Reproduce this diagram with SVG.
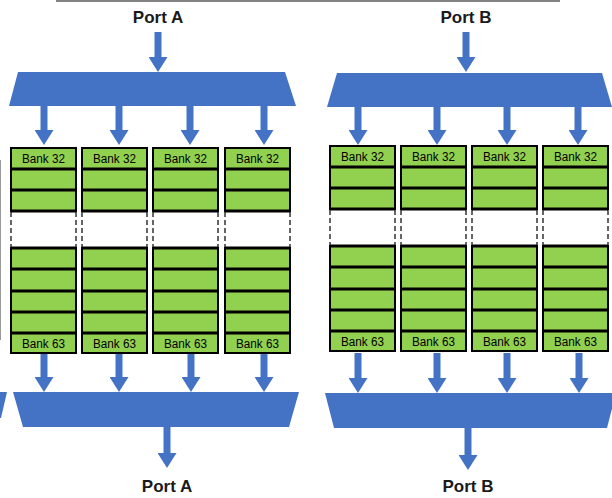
<svg xmlns="http://www.w3.org/2000/svg" width="612" height="498" viewBox="0 0 612 498">
<defs>
<style>
.mux{fill:#4472C4;}
.arr{stroke:#4472C4;stroke-width:7;fill:none;marker-end:url(#ah);}
.g{fill:#92D050;stroke:#000;stroke-width:2;}
.sep{stroke:#000;stroke-width:2.8;}
.dash{stroke:#555;stroke-width:1.8;stroke-dasharray:5 3;}
.bank{font-family:"Liberation Sans",Arial,sans-serif;font-size:12.5px;fill:#000;text-anchor:middle;}
.port{font-family:"Liberation Sans",Arial,sans-serif;font-size:17px;font-weight:bold;fill:#1a1a1a;text-anchor:middle;}
</style>
<marker id="ah" viewBox="0 0 15 19" markerWidth="15" markerHeight="19" refX="0" refY="9.5" orient="auto" markerUnits="userSpaceOnUse">
<path d="M0,0 L15,9.5 L0,19 z" fill="#4472C4"/>
</marker>
<g id="col">
<rect class="g" x="0" y="0" width="65" height="63"/>
<line class="sep" x1="0" y1="21" x2="65" y2="21"/>
<line class="sep" x1="0" y1="42" x2="65" y2="42"/>
<rect x="0" y="63" width="65" height="37" fill="#fff"/>
<line class="dash" x1="0" y1="64" x2="0" y2="100"/>
<line class="dash" x1="65" y1="64" x2="65" y2="100"/>
<rect class="g" x="0" y="100" width="65" height="105"/>
<line class="sep" x1="0" y1="63" x2="65" y2="63"/>
<line class="sep" x1="0" y1="100" x2="65" y2="100"/>
<line class="sep" x1="0" y1="121" x2="65" y2="121"/>
<line class="sep" x1="0" y1="143" x2="65" y2="143"/>
<line class="sep" x1="0" y1="164" x2="65" y2="164"/>
<line class="sep" x1="0" y1="185" x2="65" y2="185"/>
<text class="bank" x="32.5" y="15" textLength="43" lengthAdjust="spacingAndGlyphs">Bank 32</text>
<text class="bank" x="32.5" y="199.5" textLength="43" lengthAdjust="spacingAndGlyphs">Bank 63</text>
</g>
</defs>
<rect width="612" height="498" fill="#fff"/>
<!-- edge fragments -->
<line x1="56" y1="1" x2="560" y2="1" stroke="#595959" stroke-width="1.5"/>
<line x1="0.5" y1="160" x2="0.5" y2="340" stroke="#999" stroke-width="1"/>
<polygon class="mux" points="0,392 7,392 1,418 0,418"/>

<!-- Port labels -->
<text class="port" x="158" y="23">Port A</text>
<text class="port" x="466" y="23">Port B</text>
<text class="port" x="167" y="492">Port A</text>
<text class="port" x="468" y="492">Port B</text>

<!-- multiplexers -->
<g id="muxA-top"><polygon class="mux" points="18,72 285,72 296,106 9,106"/></g>
<g id="muxB-top"><polygon class="mux" points="337,73 602,73 612,107 327,107"/></g>
<g id="muxA-bot"><polygon class="mux" points="13,392 299,392 289,427 23,427"/></g>
<g id="muxB-bot"><polygon class="mux" points="325,393 616,393 607,428 334,428"/></g>

<!-- bank columns -->
<g id="colA1"><use href="#col" x="11" y="148"/></g>
<g id="colA2"><use href="#col" x="82" y="148"/></g>
<g id="colA3"><use href="#col" x="153" y="148"/></g>
<g id="colA4"><use href="#col" x="225" y="148"/></g>
<g id="colB1"><use href="#col" x="330" y="146"/></g>
<g id="colB2"><use href="#col" x="401" y="146"/></g>
<g id="colB3"><use href="#col" x="472" y="146"/></g>
<g id="colB4"><use href="#col" x="543" y="146"/></g>

<!-- connectors -->
<g id="connectors">
<line class="arr" x1="158" y1="32" x2="158" y2="57"/>
<line class="arr" x1="466" y1="32" x2="466" y2="57"/>
<line class="arr" x1="44" y1="106" x2="44" y2="130"/>
<line class="arr" x1="119" y1="106" x2="119" y2="130"/>
<line class="arr" x1="190" y1="106" x2="190" y2="130"/>
<line class="arr" x1="264" y1="106" x2="264" y2="130"/>
<line class="arr" x1="358" y1="107" x2="358" y2="130"/>
<line class="arr" x1="437" y1="107" x2="437" y2="130"/>
<line class="arr" x1="507" y1="107" x2="507" y2="130"/>
<line class="arr" x1="578" y1="107" x2="578" y2="130"/>
<line class="arr" x1="44" y1="354" x2="44" y2="377"/>
<line class="arr" x1="119" y1="354" x2="119" y2="377"/>
<line class="arr" x1="191" y1="354" x2="191" y2="377"/>
<line class="arr" x1="264" y1="354" x2="264" y2="377"/>
<line class="arr" x1="358" y1="353" x2="358" y2="378"/>
<line class="arr" x1="437" y1="353" x2="437" y2="378"/>
<line class="arr" x1="507" y1="353" x2="507" y2="378"/>
<line class="arr" x1="579" y1="353" x2="579" y2="378"/>
<line class="arr" x1="167" y1="427" x2="167" y2="453"/>
<line class="arr" x1="468" y1="428" x2="468" y2="455"/>
</g>
</svg>
